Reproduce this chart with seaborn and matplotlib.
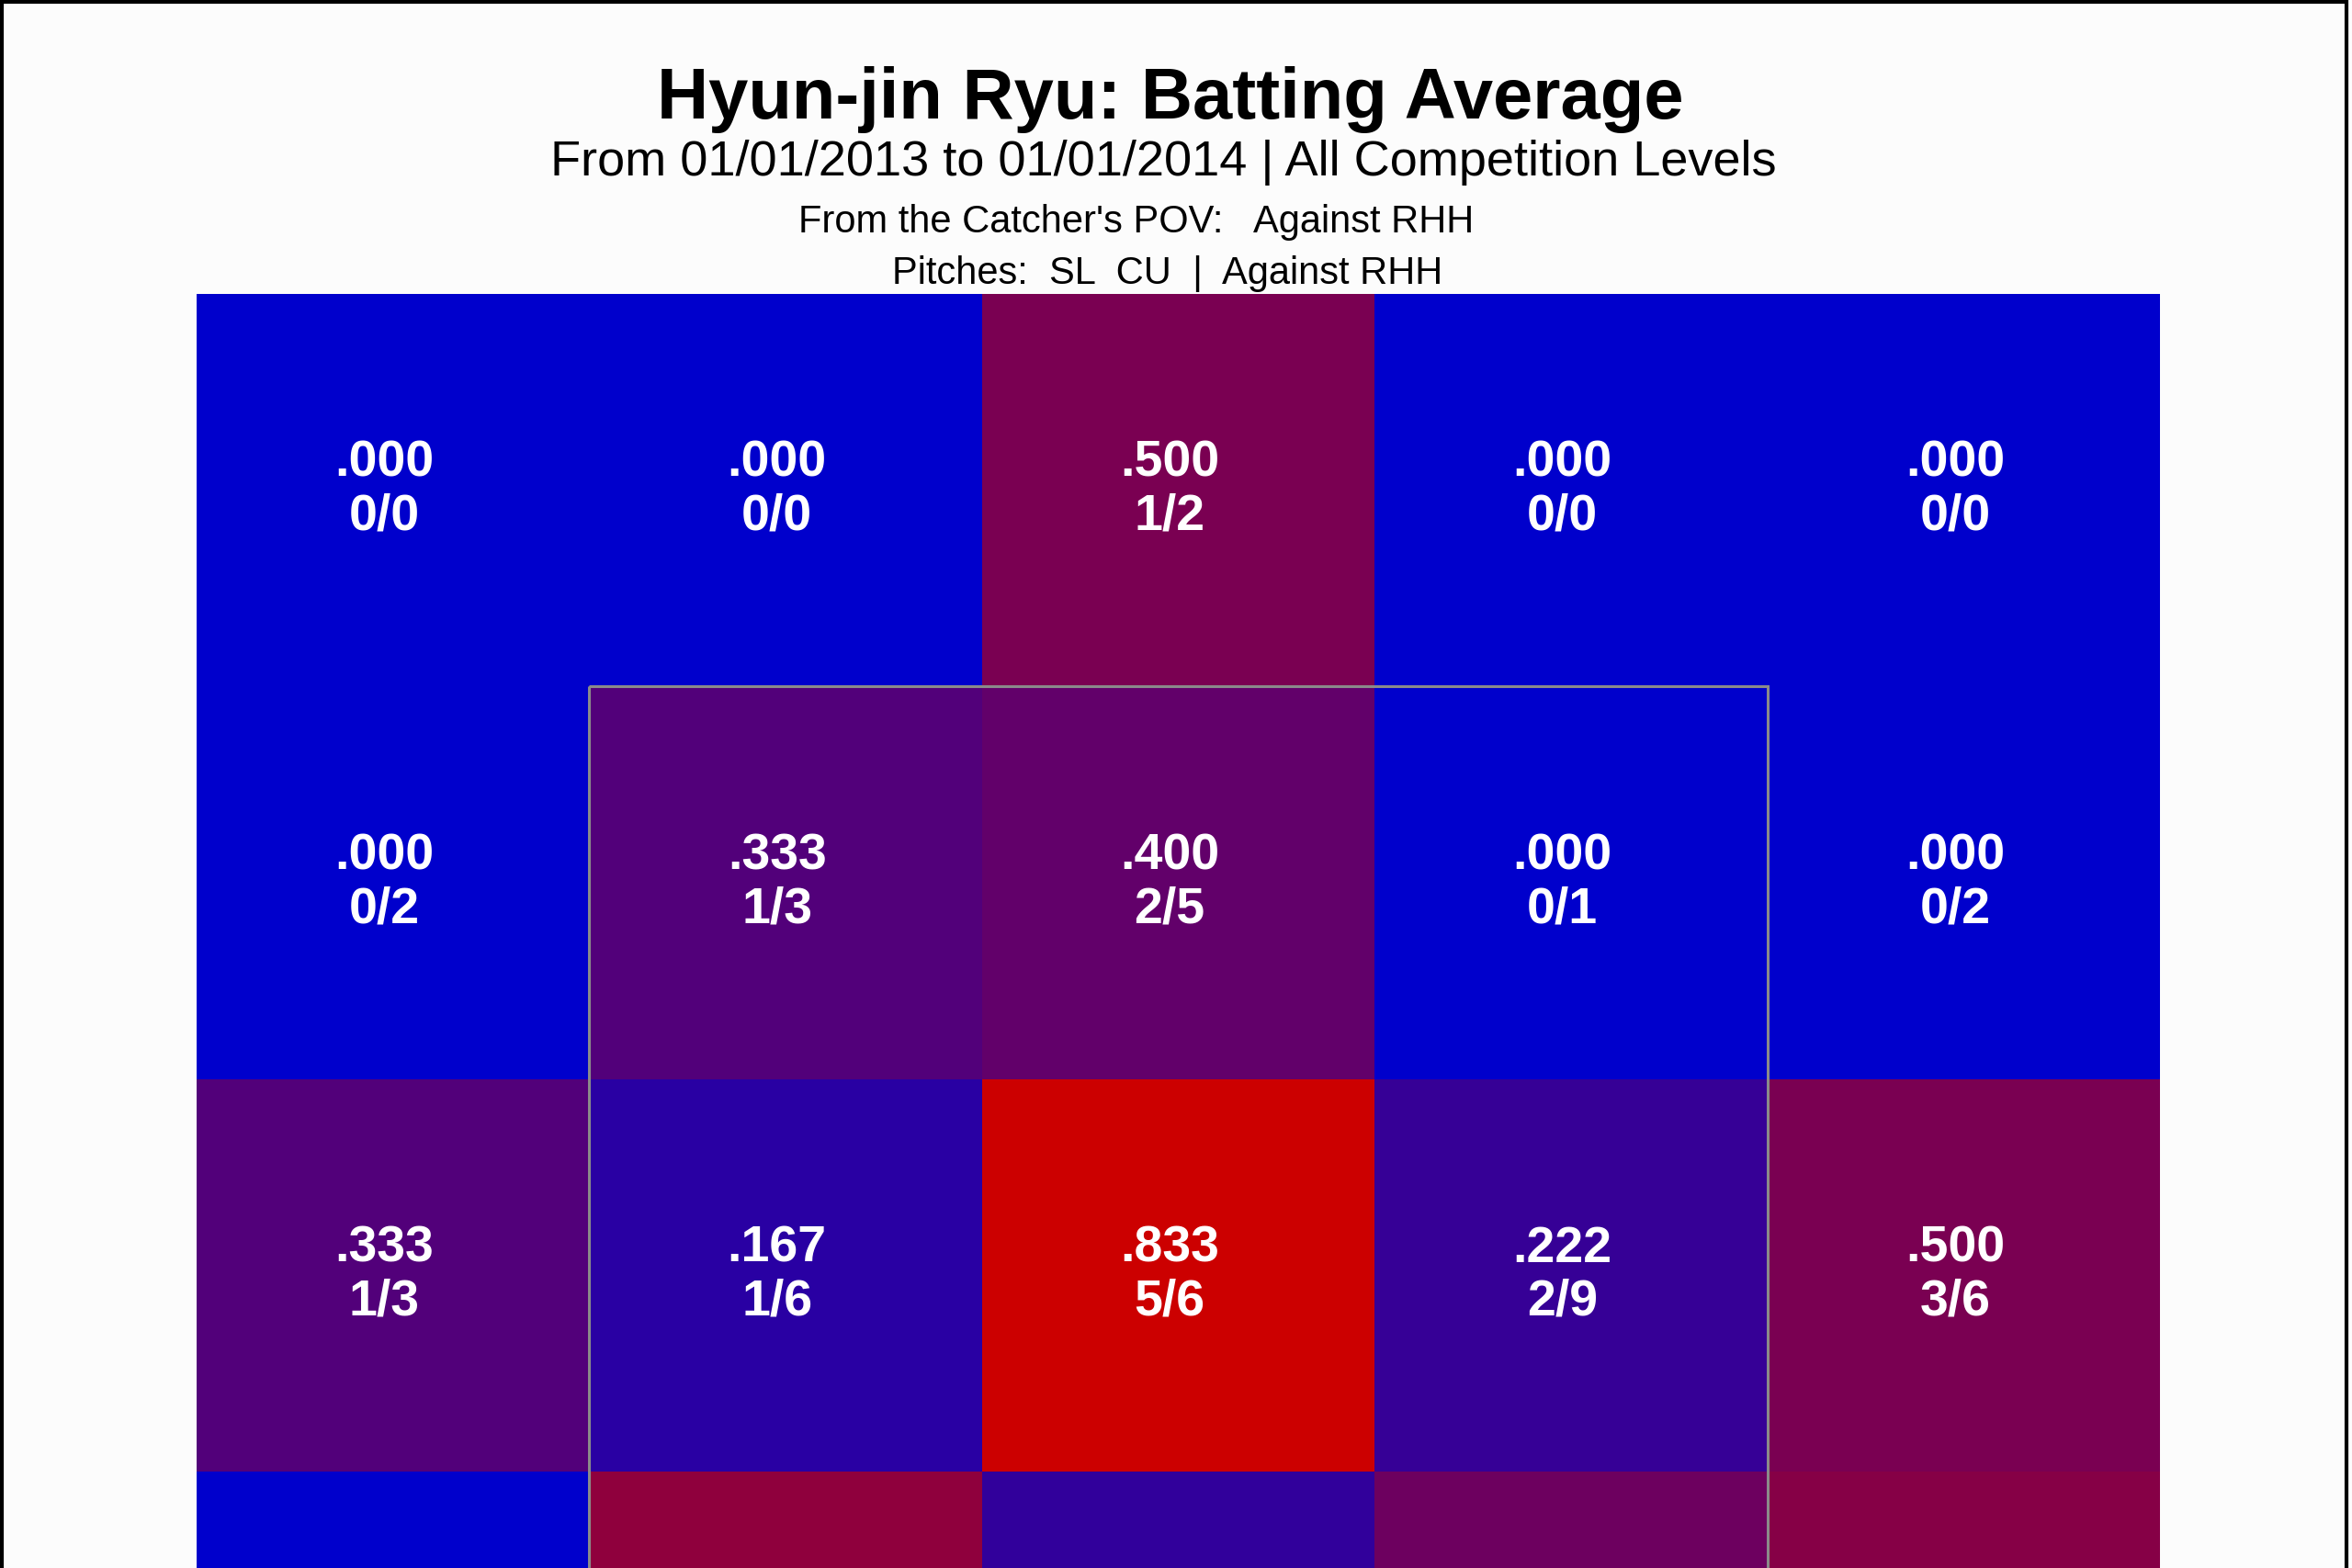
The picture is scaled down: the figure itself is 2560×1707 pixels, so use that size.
import numpy as np
import matplotlib
matplotlib.use('Agg')
import matplotlib.pyplot as plt
from matplotlib.colors import LinearSegmentedColormap
from matplotlib.patches import Rectangle
import seaborn as sns

# Batting average by zone (catcher's view), rows top -> bottom
# 4th row is cut off by the image, its values estimated from colour only
row1_avg = [0.000, 0.000, 0.500, 0.000, 0.000]
row2_avg = [0.000, 0.333, 0.400, 0.000, 0.000]
row3_avg = [0.333, 0.167, 0.833, 0.222, 0.500]
row4_avg = [0.000, 0.583, 0.200, 0.444, 0.545]

row1_hits = ['0/0', '0/0', '1/2', '0/0', '0/0']
row2_hits = ['0/2', '1/3', '2/5', '0/1', '0/2']
row3_hits = ['1/3', '1/6', '5/6', '2/9', '3/6']

title = 'Hyun-jin Ryu: Batting Average'
subtitle = 'From 01/01/2013 to 01/01/2014 | All Competition Levels'
line3 = "From the Catcher's POV:   Against RHH"
line4 = 'Pitches:  SL  CU  |  Against RHH'

avg = np.array([row1_avg, row2_avg, row3_avg, row4_avg])
hits = [row1_hits, row2_hits, row3_hits]


def fmt_avg(v):
    return ('%.3f' % v)[1:] if v < 1 else '%.3f' % v


labels = []
for i, row in enumerate(avg):
    if i < len(hits):
        labels.append([fmt_avg(v) + '\n' + h for v, h in zip(row, hits[i])])
    else:
        labels.append(['' for _ in row])
labels = np.array(labels)

plt.rcParams['font.family'] = ['Liberation Sans', 'DejaVu Sans']

W, H = 2560, 1707
fig = plt.figure(figsize=(W / 100, H / 100), dpi=100)
fig.patch.set_facecolor('#fcfcfc')

# grid: left 214, right 2351, top 320, cells ~427 px
left, right, top = 214, 2351, 320
cell = (right - left) / 5
bottom = top + cell * avg.shape[0]
ax = fig.add_axes([left / W, (H - bottom) / H, (right - left) / W, (bottom - top) / H])

cmap = LinearSegmentedColormap.from_list('ba', ['#0000cc', '#cc0000'])
sns.heatmap(avg, ax=ax, cmap=cmap, vmin=0, vmax=0.833, cbar=False,
            annot=labels, fmt='', linewidths=0,
            annot_kws={'fontsize': 40, 'fontweight': 'bold', 'color': 'white',
                       'linespacing': 1.15})
# labels sit a little left of the cell centre in the original
for t in ax.texts:
    x, y = t.get_position()
    t.set_position((x - 0.022, y))
ax.set_xticks([])
ax.set_yticks([])
for s in ax.spines.values():
    s.set_visible(False)

# strike zone
ax.add_patch(Rectangle((1, 1), 3, 3, fill=False, edgecolor='#8a8a8a', lw=2.2,
                       clip_on=False))

fig.text(1274 / W, 1 - 129 / H, title, ha='center', va='baseline',
         fontsize=56, fontweight='bold', color='black')
fig.text(1266 / W, 1 - 191 / H, subtitle, ha='center', va='baseline',
         fontsize=39, color='black')
fig.text(1237 / W, 1 - 253 / H, line3, ha='center', va='baseline',
         fontsize=30, color='black')
fig.text(1271 / W, 1 - 309 / H, line4, ha='center', va='baseline',
         fontsize=30, color='black')

# outer frame
fig.patches.append(Rectangle((2 / W, -0.05), 2552 / W, 1.05 - 2 / H, fill=False,
                             edgecolor='black', lw=3, transform=fig.transFigure,
                             figure=fig))

fig.savefig('out.png', dpi=100, facecolor=fig.get_facecolor())
